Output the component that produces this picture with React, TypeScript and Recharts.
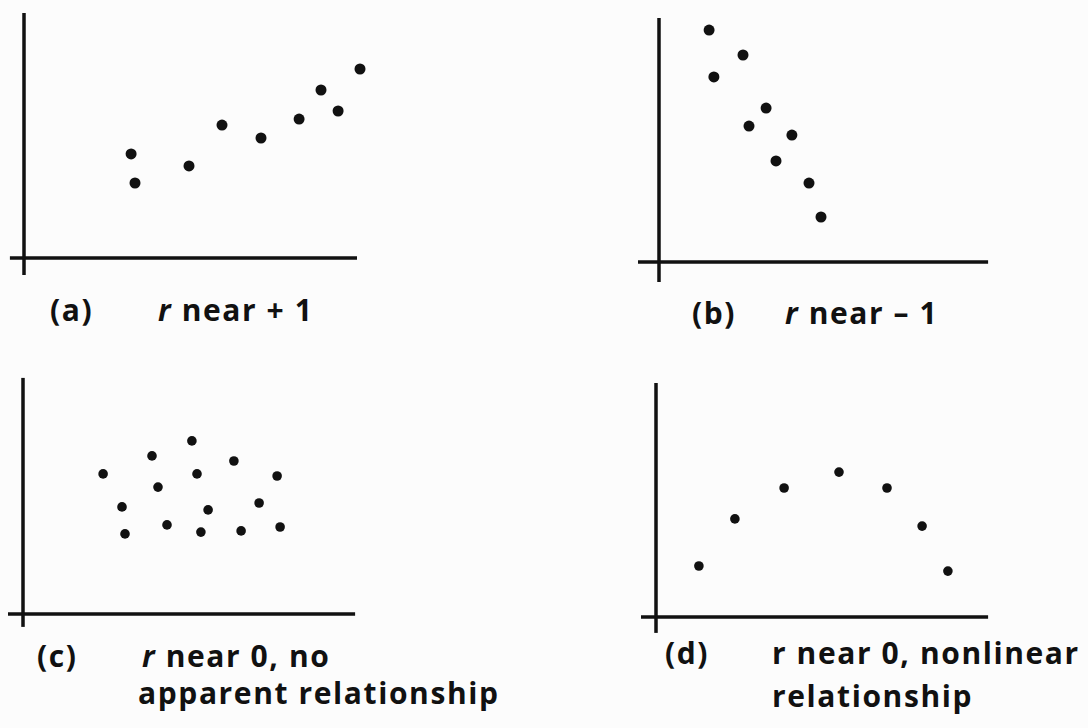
import React from 'react'
import { ReferenceLine, Scatter, ScatterChart, XAxis, YAxis } from 'recharts'

// four textbook scatter panels: (a) r near +1, (b) r near -1, (c) r near 0, (d) nonlinear
const positiveX = [3.57, 3.7, 5.5, 6.6, 7.9, 9.17, 9.9, 10.47, 11.2]
const positiveY = [3.47, 2.5, 3.07, 4.43, 4.0, 4.63, 5.6, 4.9, 6.3]

const negativeX = [1.67, 2.8, 1.83, 3.57, 3.0, 4.43, 3.9, 5.0, 5.4]
const negativeY = [7.73, 6.9, 6.17, 5.13, 4.53, 4.23, 3.37, 2.63, 1.5]

const noneX = [2.67, 4.3, 5.63, 7.03, 8.47, 5.8, 4.5, 3.3, 6.17, 7.87, 3.4, 4.8, 5.93, 7.27, 8.57]
const noneY = [4.67, 5.27, 5.77, 5.1, 4.6, 4.67, 4.23, 3.57, 3.47, 3.7, 2.67, 2.97, 2.73, 2.77, 2.9]

const curveX = [1.43, 2.63, 4.27, 6.1, 7.7, 8.87, 9.73]
const curveY = [1.7, 3.27, 4.3, 4.83, 4.3, 3.03, 1.53]

const INK = '#111'
const UNIT = 30
const X_DOMAIN: [number, number] = [-1, 12]
const Y_DOMAIN: [number, number] = [-1, 9]

const zip = (xs: number[], ys: number[]) => xs.map((x, i) => ({ x, y: ys[i] }))

interface PanelProps {
  originX: number
  originY: number
  xs: number[]
  ys: number[]
  xAxis: [number, number]
  yAxis: [number, number]
  r: number
}

const Panel: React.FC<PanelProps> = ({ originX, originY, xs, ys, xAxis, yAxis, r }) => {
  const width = (X_DOMAIN[1] - X_DOMAIN[0]) * UNIT
  const height = (Y_DOMAIN[1] - Y_DOMAIN[0]) * UNIT
  return (
    <div style={{ position: 'absolute', left: originX + X_DOMAIN[0] * UNIT, top: originY - Y_DOMAIN[1] * UNIT }}>
      <ScatterChart width={width} height={height} margin={{ top: 0, right: 0, bottom: 0, left: 0 }}>
        <XAxis type="number" dataKey="x" domain={X_DOMAIN} allowDataOverflow hide />
        <YAxis type="number" dataKey="y" domain={Y_DOMAIN} allowDataOverflow hide />
        <ReferenceLine segment={[{ x: xAxis[0], y: 0 }, { x: xAxis[1], y: 0 }]} stroke={INK} strokeWidth={3.5} />
        <ReferenceLine segment={[{ x: 0, y: yAxis[0] }, { x: 0, y: yAxis[1] }]} stroke={INK} strokeWidth={3.5} />
        <Scatter
          data={zip(xs, ys)}
          isAnimationActive={false}
          shape={(p: any) => <circle cx={p.cx} cy={p.cy} r={r} fill={INK} />}
        />
      </ScatterChart>
    </div>
  )
}

const textStyle: React.CSSProperties = {
  fontFamily: '"Open Sans", sans-serif',
  fontSize: 30,
  fontWeight: 700,
  letterSpacing: 1.6,
}

export default function App() {
  return (
    <div style={{ position: 'absolute', left: 0, top: 0, width: 1088, height: 728, background: '#fcfcfc', overflow: 'hidden' }}>
      <Panel originX={24} originY={258} xs={positiveX} ys={positiveY} xAxis={[-0.47, 11.1]} yAxis={[-0.57, 8.17]} r={5.5} />
      <Panel originX={659} originY={262} xs={negativeX} ys={negativeY} xAxis={[-0.7, 10.97]} yAxis={[-0.67, 8.13]} r={5.5} />
      <Panel originX={23} originY={614} xs={noneX} ys={noneY} xAxis={[-0.5, 11.07]} yAxis={[-0.43, 7.87]} r={4.8} />
      <Panel originX={656} originY={617} xs={curveX} ys={curveY} xAxis={[-0.5, 11.07]} yAxis={[-0.53, 7.8]} r={4.8} />
      <svg width={1088} height={728} style={{ position: 'absolute', left: 0, top: 0 }}>
        <g fill={INK} style={textStyle}>
          <text x={50} y={321}>(a)</text>
          <text x={158} y={321}><tspan fontStyle="italic">r</tspan> near + 1</text>
          <text x={692} y={324}>(b)</text>
          <text x={785} y={324}><tspan fontStyle="italic">r</tspan> near – 1</text>
          <text x={37} y={667}>(c)</text>
          <text x={142} y={667}><tspan fontStyle="italic">r</tspan> near 0, no</text>
          <text x={138} y={704}>apparent relationship</text>
          <text x={665} y={664}>(d)</text>
          <text x={772} y={664}>r near 0, nonlinear</text>
          <text x={772} y={707}>relationship</text>
        </g>
      </svg>
    </div>
  )
}
